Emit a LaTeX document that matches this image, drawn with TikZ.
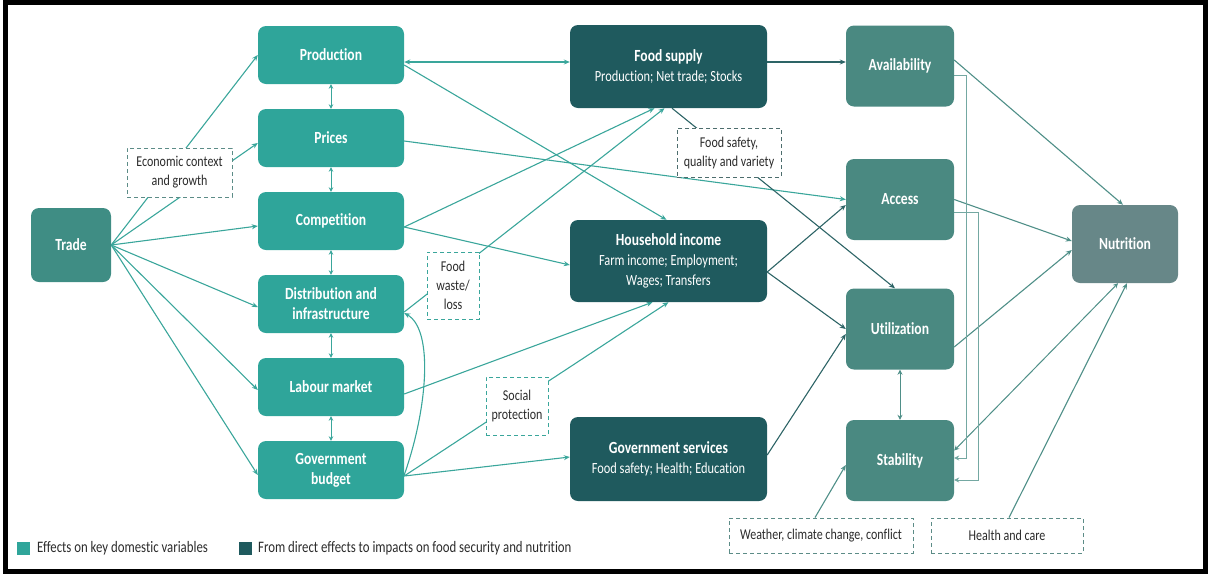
\documentclass[tikz,border=0pt]{standalone}
\usepackage{fontspec}
\setmainfont{Carlito}[FakeStretch=0.8,Ligatures=NoCommon]
\usetikzlibrary{arrows.meta,calc}

\definecolor{tealA}{HTML}{2FA59A}
\definecolor{tradeC}{HTML}{3F8D84}
\definecolor{darkC}{HTML}{1F5A5E}
\definecolor{pillarC}{HTML}{4A8981}
\definecolor{nutC}{HTML}{678788}
\definecolor{lnA}{HTML}{3AA69B}
\definecolor{lnB}{HTML}{2D6466}
\definecolor{lnC}{HTML}{4F8F88}
\definecolor{lnD}{HTML}{74A8A2}
\definecolor{dashA}{HTML}{5C8C87}
\definecolor{dashB}{HTML}{3AA69B}
\definecolor{dashC}{HTML}{4D6D6D}
\definecolor{txtC}{HTML}{2B2B2B}

\pgfdeclarelayer{background}
\pgfsetlayers{background,main}

\newcommand\subtx[1]{{\mdseries\fontsize{15.5}{19}\selectfont #1}}

\tikzset{
  box/.style={rounded corners=8pt, inner sep=2pt, align=center, text=white,
    font=\fontsize{17}{20}\selectfont\bfseries},
  keybox/.style={box, fill=tealA, minimum width=146pt, minimum height=58pt},
  tradebox/.style={box, fill=tradeC, minimum width=80pt, minimum height=74pt},
  darkbox/.style={box, fill=darkC, minimum width=197pt},
  pillar/.style={box, fill=pillarC, minimum width=108pt, minimum height=81pt},
  nutbox/.style={box, fill=nutC, minimum width=106pt, minimum height=78pt},
  note/.style={draw, dashed, dash pattern=on 4pt off 3pt, line width=0.9pt, fill=white,
    text=txtC, align=center, inner sep=1pt, font=\fontsize{15}{19}\selectfont},
  arrA/.style={-{Stealth[length=6pt,width=5pt]}, line width=1.1pt, draw=lnA},
  arrB/.style={-{Stealth[length=6pt,width=5pt]}, line width=1.1pt, draw=lnB},
  arrC/.style={-{Stealth[length=6pt,width=5pt]}, line width=1.1pt, draw=lnC},
  dblA/.style={{Stealth[length=4.5pt,width=4.5pt]}-{Stealth[length=4.5pt,width=4.5pt]}, line width=1pt, draw=lnA},
  dblC/.style={{Stealth[length=5pt,width=5pt]}-{Stealth[length=5pt,width=5pt]}, line width=1pt, draw=lnC},
  elbow/.style={-{Stealth[length=5pt,width=5pt]}, line width=0.9pt, draw=lnD},
  legtext/.style={anchor=west, text=txtC, inner sep=0pt, font=\fontsize{16}{19}\selectfont},
}

\begin{document}
\begin{tikzpicture}[x=1pt,y=-1pt]
\useasboundingbox (0,0) rectangle (1208,574);
\draw[line width=5pt] (5.5,2.5) rectangle (1205.5,571.5);

% driver and key domestic variables
\node[tradebox] (trade) at (71,245) {Trade};
\node[keybox] (prod) at (331,55) {Production};
\node[keybox] (prices) at (331,138) {Prices};
\node[keybox] (comp) at (331,221) {Competition};
\node[keybox] (dist) at (331,304) {Distribution and\\infrastructure};
\node[keybox] (labour) at (331,387) {Labour market};
\node[keybox] (govb) at (331,470) {Government\\budget};

% direct effects
\node[darkbox, minimum height=83pt] (food) at (668.5,66.5)
  {Food supply\\\subtx{Production; Net trade; Stocks}};
\node[darkbox, minimum height=82pt] (hh) at (668.5,261)
  {Household income\\\subtx{Farm income; Employment;}\\\subtx{Wages; Transfers}};
\node[darkbox, minimum height=84pt] (govs) at (668.5,459)
  {Government services\\\subtx{Food safety; Health; Education}};

% pillars of food security
\node[pillar] (avail) at (900,66) {Availability};
\node[pillar] (access) at (900,199.5) {Access};
\node[pillar] (util) at (900,329) {Utilization};
\node[pillar] (stab) at (900,460.5) {Stability};
\node[nutbox] (nut) at (1125,244) {Nutrition};

% channel notes
\node[note, draw=dashA, minimum width=105pt, minimum height=49pt] (econ) at (179.5,172.5) {Economic context\\and growth};
\node[note, draw=dashB, minimum width=52pt, minimum height=67pt] (waste) at (453,285.5) {Food\\waste/\\loss};
\node[note, draw=dashB, minimum width=62pt, minimum height=58pt] (social) at (517,406) {Social\\protection};
\node[note, draw=dashC, minimum width=104pt, minimum height=49pt] (safety) at (729,152.5) {Food safety,\\quality and variety};
\node[note, draw=dashA, minimum width=184pt, minimum height=35pt] (weather) at (821,535.5) {Weather, climate change, conflict};
\node[note, draw=dashA, minimum width=152pt, minimum height=35pt] (health) at (1007,535.5) {Health and care};

% legend
\node[fill=tealA, minimum size=13pt, inner sep=0pt] (lgA) at (23,548) {};
\node[legtext] (lgAt) at (37,548) {Effects on key domestic variables};
\node[fill=darkC, minimum size=13pt, inner sep=0pt] (lgB) at (245.5,548) {};
\node[legtext] (lgBt) at (258,548) {From direct effects to impacts on food security and nutrition};

\begin{pgfonlayer}{background}
% trade fan
\draw[arrA] (trade.east) -- (prod.west);
\draw[arrA] (trade.east) -- ([yshift=-5pt]prices.west);
\draw[arrA] (trade.east) -- ([yshift=-5pt]comp.west);
\draw[arrA] (trade.east) -- ([yshift=-3pt]dist.west);
\draw[arrA] (trade.east) -- ([yshift=-3pt]labour.west);
\draw[arrA] (trade.east) -- ([yshift=-5pt]govb.west);

% links within the domestic variables
\draw[dblA] (prod.south) -- (prices.north);
\draw[dblA] (prices.south) -- (comp.north);
\draw[dblA] (comp.south) -- (dist.north);
\draw[dblA] (dist.south) -- (labour.north);
\draw[dblA] (labour.south) -- (govb.north);

% domestic variables to direct effects
\draw[{Stealth[length=6pt,width=5pt]}-{Stealth[length=6pt,width=5pt]}, line width=1.1pt, draw=lnA]
  ([yshift=-7pt]prod.east) -- ([yshift=4.5pt]food.west);
\draw[arrA] ([yshift=-10pt]prod.east) -- ([xshift=-2pt]hh.north);
\draw[arrA] ([yshift=-3pt]prices.east) -- (access.west);
\draw[arrA] ([yshift=-6pt]comp.east) -- ([xshift=-14pt]food.south);
\draw[arrA] ([yshift=-6pt]comp.east) -- ([yshift=-4pt]hh.west);
\draw[arrA] ([yshift=-8pt]dist.east) -- ([xshift=-4pt]food.south);
\draw[arrA] ([yshift=-7pt]labour.east) -- ([xshift=-16pt]hh.south);
\draw[arrA] ([yshift=-6pt]govb.east) -- (hh.south);
\draw[arrA] ([yshift=-6pt]govb.east) -- ([yshift=2pt]govs.west);
\draw[arrA] ([yshift=-5pt]govb.east) .. controls +(23,-65) and +(30,17) .. ([yshift=-9pt]dist.east);

% direct effects to pillars
\draw[arrB] ([yshift=4.5pt]food.east) -- ([yshift=4pt]avail.west);
\draw[arrB] ([xshift=3.5pt]food.south) -- ([xshift=-5pt]util.north);
\draw[arrB] ([yshift=-11pt]hh.east) -- ([yshift=-5.5pt]access.west);
\draw[arrB] ([yshift=-11pt]hh.east) -- (util.west);
\draw[arrB] ([yshift=4pt]govs.east) -- ([yshift=-5pt]util.west);

% pillars to nutrition
\draw[arrC] ([yshift=6pt]avail.east) -- ([xshift=-2pt]nut.north);
\draw[arrC] (access.east) -- ([yshift=3pt]nut.west);
\draw[arrC] ([yshift=-18pt]util.east) -- ([yshift=-6pt]nut.west);
\draw[dblC] ([yshift=10pt]stab.east) -- ([xshift=-7pt]nut.south);
\draw[arrC] ([xshift=2pt]health.north) -- ([xshift=2pt]nut.south);
\draw[arrC] ([xshift=-6pt]weather.north) -- ([yshift=-4.5pt]stab.west);
\draw[dblC] (util.south) -- (stab.north);

% feedback into stability
\draw[elbow] ([yshift=-9pt]avail.east) -- ++(12.5,0) |- ([yshift=2.5pt]stab.east);
\draw[elbow] ([yshift=-12.5pt]access.east) -- ++(24,0) |- ([yshift=-19.5pt]stab.east);
\end{pgfonlayer}
\end{tikzpicture}
\end{document}
